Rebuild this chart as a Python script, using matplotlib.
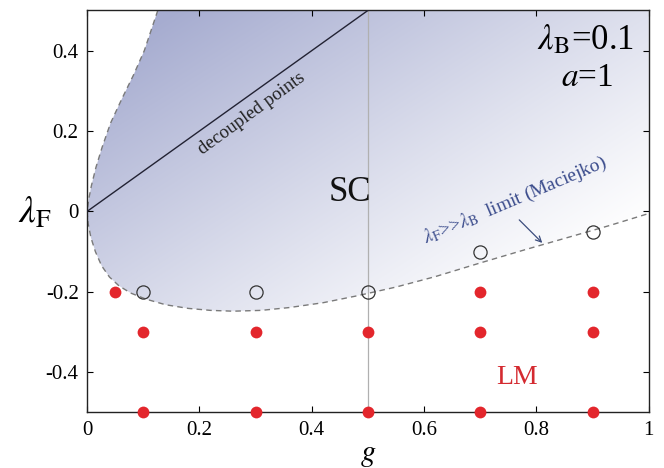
import numpy as np
import matplotlib
matplotlib.use("Agg")
import matplotlib.pyplot as plt
from matplotlib.path import Path
from matplotlib.patches import PathPatch

plt.rcParams['font.family'] = ['Liberation Serif', 'DejaVu Serif']
plt.rcParams['mathtext.fontset'] = 'stix'

# ---- data ----
# boundary of SC region (lambda_F >> lambda_B limit)
curve_g = [0.126, 0.114, 0.102, 0.083, 0.062, 0.042, 0.027, 0.016, 0.008, 0.003, 0.0,
           0.002, 0.007, 0.015, 0.026, 0.040, 0.057, 0.078, 0.105, 0.14, 0.18,
           0.22, 0.26, 0.31, 0.36, 0.42, 0.48, 0.55, 0.62, 0.70, 0.78, 0.86,
           0.93, 1.0]
curve_l = [0.50, 0.45, 0.40, 0.34, 0.28, 0.22, 0.16, 0.11, 0.065, 0.03, 0.0,
           -0.03, -0.065, -0.10, -0.135, -0.163, -0.185, -0.203, -0.218, -0.232, -0.241,
           -0.246, -0.248, -0.246, -0.239, -0.227, -0.21, -0.188, -0.162, -0.128, -0.095,
           -0.063, -0.035, -0.005]

# decoupled points line
dec_g = [0.0, 0.5]
dec_l = [0.0, 0.5]

# LM (red filled) points
lm_g = [0.05, 0.1, 0.1, 0.3, 0.3, 0.5, 0.5, 0.7, 0.7, 0.7, 0.9, 0.9, 0.9]
lm_l = [-0.2, -0.3, -0.5, -0.3, -0.5, -0.3, -0.5, -0.2, -0.3, -0.5, -0.2, -0.3, -0.5]

# SC (open) points
sc_g = [0.1, 0.3, 0.5, 0.7, 0.9]
sc_l = [-0.2, -0.2, -0.2, -0.1, -0.05]

xticks = [0, 0.2, 0.4, 0.6, 0.8, 1]
xticklabels = ['0', '0.2', '0.4', '0.6', '0.8', '1']
yticks = [-0.4, -0.2, 0, 0.2, 0.4]
yticklabels = ['-0.4', '-0.2', '0', '0.2', '0.4']

# ---- figure ----
fig = plt.figure(figsize=(6.64, 4.68), dpi=100)
ax = fig.add_axes([0.131, 0.1186, 0.846, 0.859])
ax.set_xlim(0, 1)
ax.set_ylim(-0.5, 0.5)

# gradient shading clipped to SC region
G, L = np.meshgrid(np.linspace(0, 1, 400), np.linspace(-0.5, 0.5, 400))
s = np.clip(0.72 + 0.78 * L - 0.70 * G, 0, 1) ** 1.1
dark = np.array([166, 172, 208]) / 255.0
img = np.ones(G.shape + (3,)) * (1 - s[..., None]) + dark * s[..., None]
im = ax.imshow(img, extent=[0, 1, -0.5, 0.5], origin='lower', aspect='auto',
               zorder=0, interpolation='bilinear')
verts = list(zip(curve_g, curve_l)) + [(1.0, 0.5), (curve_g[0], curve_l[0])]
codes = [Path.MOVETO] + [Path.LINETO] * (len(verts) - 2) + [Path.CLOSEPOLY]
patch = PathPatch(Path(verts, codes), facecolor='none', edgecolor='none')
ax.add_patch(patch)
im.set_clip_path(patch)

# boundary curve
ax.plot(curve_g, curve_l, ls=(0, (4, 3)), color='#7a7a7a', lw=1.0, zorder=2)

# vertical gray line at g=0.5
ax.axvline(0.5, color='#b0b0b0', lw=0.9, zorder=1)

# decoupled points line
ax.plot(dec_g, dec_l, color='#222233', lw=1.0, zorder=3)

# points
ax.plot(lm_g, lm_l, 'o', ms=8.5, color='#e3262c', mec='none', zorder=5, clip_on=False)
ax.plot(sc_g, sc_l, 'o', ms=9.5, mfc='none', mec='#333333', mew=0.9, zorder=5)

# texts
ax.text(0.468, 0.046, 'SC', fontsize=25, ha='center', va='center', color='#111111')
ax.text(0.766, -0.414, 'LM', fontsize=20, ha='center', va='center', color='#d42a30')
ax.text(0.888, 0.426, r'$\lambda_\mathrm{B}$=0.1', fontsize=25, ha='center', va='center')
ax.text(0.890, 0.332, r'$a$=1', fontsize=24, ha='center', va='center')
ax.text(0.293, 0.243, 'decoupled points', fontsize=13.5, ha='center', va='center',
        rotation=36, rotation_mode='anchor', color='#222222')
ax.text(0.762, 0.028, r'$\lambda_\mathrm{F}$>>$\lambda_\mathrm{B}$  limit (Maciejko)',
        fontsize=14, ha='center', va='center', rotation=23, rotation_mode='anchor',
        color='#3b4c8c')
ax.annotate('', xy=(0.814, -0.083), xytext=(0.766, -0.016),
            arrowprops=dict(arrowstyle='->', color='#3b4c7c', lw=0.9))

# axes styling
ax.set_xticks(xticks)
ax.set_xticklabels(xticklabels)
ax.set_yticks(yticks)
ax.set_yticklabels(yticklabels)
ax.tick_params(direction='in', length=4, width=0.8, top=True, right=True,
               labelsize=15, pad=6)
for sp in ax.spines.values():
    sp.set_linewidth(1.0)
    sp.set_color('#222222')

fig.text(0.053, 0.545, r'$\lambda_\mathrm{F}$', fontsize=27, ha='center', va='center')
fig.text(0.554, 0.028, r'$g$', fontsize=22, ha='center', va='center')

fig.savefig('out.png', dpi=100)
